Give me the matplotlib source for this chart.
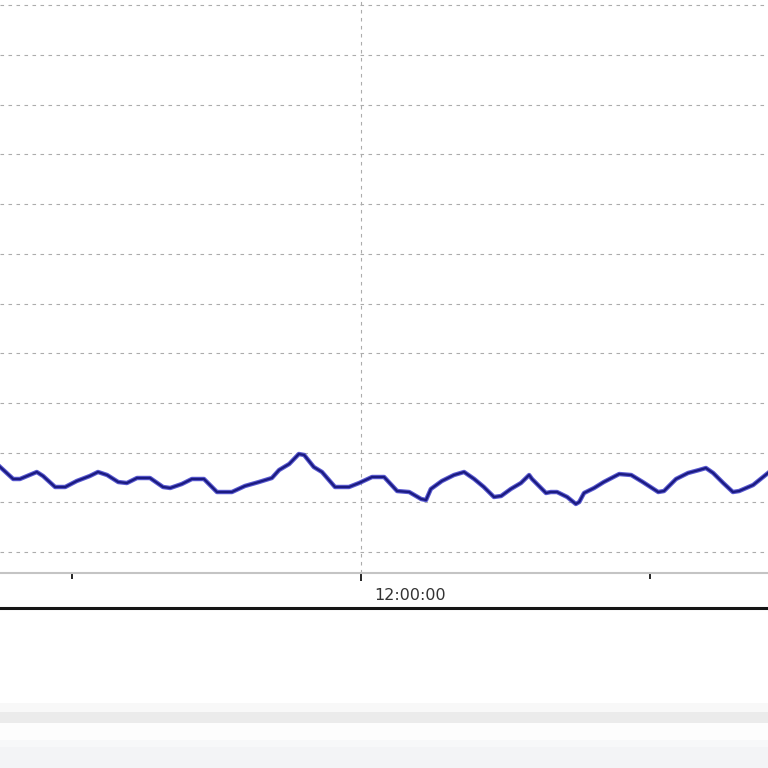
import matplotlib
matplotlib.use("Agg")
import matplotlib.pyplot as plt
from matplotlib.lines import Line2D
from matplotlib.patches import Rectangle
from matplotlib.transforms import ScaledTranslation

# time of day in hours, and the measured value
hours = [4.51, 4.78, 4.92, 5.27, 5.40, 5.65, 5.86, 6.10, 6.37, 6.54,
         6.73, 6.96, 7.14, 7.35, 7.62, 7.89, 8.04, 8.28, 8.49, 8.74,
         9.01, 9.32, 9.59, 9.88, 10.15, 10.30, 10.51, 10.71, 10.82, 11.02,
         11.19, 11.46, 11.75, 11.96, 12.23, 12.48, 12.75, 13.00, 13.25, 13.35,
         13.45, 13.68, 13.93, 14.14, 14.35, 14.55, 14.76, 14.91, 15.11, 15.32,
         15.49, 15.55, 15.84, 15.94, 16.07, 16.28, 16.46, 16.53, 16.63, 16.84,
         17.04, 17.36, 17.61, 17.85, 18.17, 18.29, 18.54, 18.79, 19.02, 19.16,
         19.31, 19.52, 19.72, 19.85, 20.14, 20.45]
values = [27.10, 24.69, 24.69, 26.10, 25.29, 23.08, 23.08, 24.29, 25.29, 26.10,
          25.49, 24.08, 23.88, 24.89, 24.89, 23.08, 22.88, 23.68, 24.69, 24.69,
          22.07, 22.07, 23.28, 24.08, 24.89, 26.50, 27.71, 29.72, 29.52, 27.10,
          26.10, 23.08, 23.08, 23.88, 25.09, 25.09, 22.27, 22.07, 20.66, 20.46,
          22.68, 24.29, 25.49, 26.10, 24.69, 23.08, 21.07, 21.27, 22.68, 23.88,
          25.49, 24.69, 21.87, 22.07, 22.07, 21.07, 19.66, 20.06, 21.87, 22.88,
          24.08, 25.69, 25.49, 24.08, 22.07, 22.27, 24.69, 25.90, 26.50, 26.90,
          25.90, 23.88, 22.07, 22.27, 23.48, 25.90]

grid_values = [10, 20, 30, 40, 50, 60, 70, 80, 90, 100, 110, 120]
major_hours = [12]
major_labels = ["12:00:00"]
minor_hours = [6, 18]

fig = plt.figure(figsize=(7.68, 7.68), dpi=100)
fig.patch.set_facecolor("white")

# chart area (cropped: runs off the top and both sides)
ax = fig.add_axes([0, 1 - 573 / 768, 1, 573 / 768])
ax.set_xlim(4.506, 20.449)
ax.set_ylim(5.775, 121.07)

ax.plot(hours, values, color="#3c3cc8", lw=3.2, alpha=0.85, solid_joinstyle="round")
ax.plot(hours, values, color="#1a1a80", lw=1.6, solid_joinstyle="round")

ax.set_yticks(grid_values)
ax.tick_params(axis="y", left=False, labelleft=False)
ax.set_xticks(major_hours)
ax.set_xticklabels(major_labels)
ax.set_xticks(minor_hours, minor=True)
ax.tick_params(axis="x", which="major", direction="out", length=6, width=1.2,
               color="black", labelsize=11.5, labelcolor="#333333", pad=5)
ax.tick_params(axis="x", which="minor", direction="out", length=4, width=1.2,
               color="black")
for lab in ax.get_xticklabels():
    lab.set_ha("left")
    lab.set_transform(lab.get_transform() + ScaledTranslation(0.13, 0, fig.dpi_scale_trans))

ax.grid(True, which="major", color="#acacac", lw=0.8, linestyle=(0, (3.2, 4.0)))
for side in ["top", "left", "right"]:
    ax.spines[side].set_visible(False)
ax.spines["bottom"].set_color("#c4c4c4")
ax.spines["bottom"].set_linewidth(1.5)

# frame line under the axis and the window strips below
fig.add_artist(Line2D([0, 1], [1 - 608 / 768] * 2, transform=fig.transFigure,
                      color="#151515", lw=2.2))
strips = [(703, 712, "#f8f8f8"), (712, 723, "#ebebeb"), (723, 740, "#fdfdfd"),
          (740, 747, "#f7f8f9"), (747, 768, "#f3f4f6")]
for top, bottom, col in strips:
    fig.add_artist(Rectangle((0, 1 - bottom / 768), 1, (bottom - top) / 768,
                             transform=fig.transFigure, color=col, lw=0))

fig.savefig("out.png", dpi=100)
